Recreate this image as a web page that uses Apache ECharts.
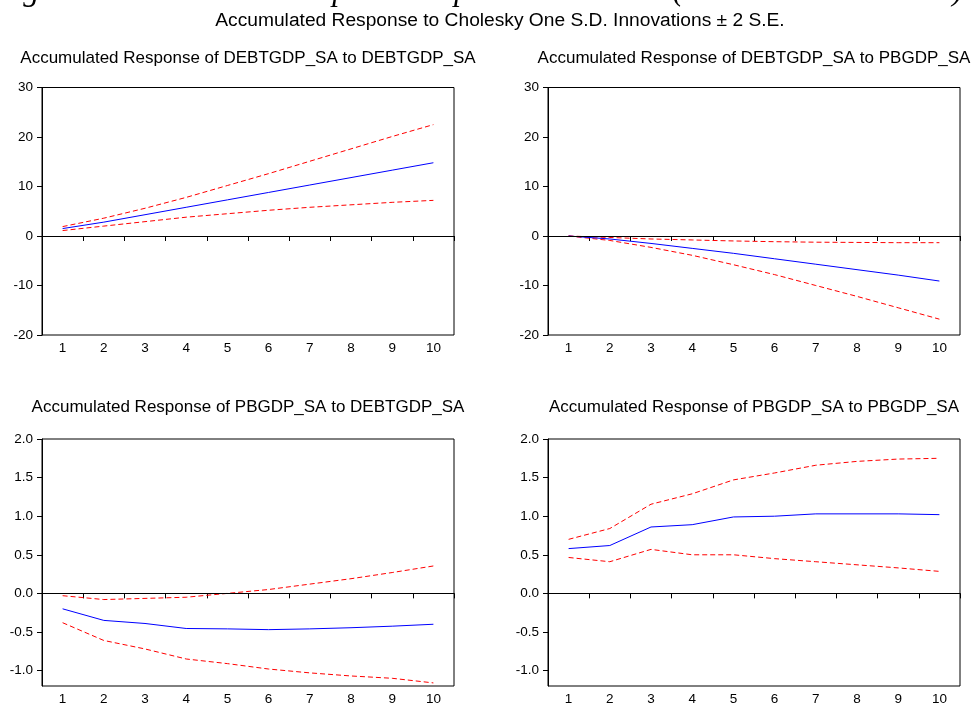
<!DOCTYPE html>
<html>
<head>
<meta charset="utf-8">
<script src="https://cdn.jsdelivr.net/npm/echarts@6/dist/echarts.min.js"></script>
<style>
html,body{margin:0;padding:0;background:#fff;}
#c{width:971px;height:706px;}
</style>
</head>
<body>
<div id="c"></div>
<script>
// ---- data ----
const periods = ['1','2','3','4','5','6','7','8','9','10'];

// Accumulated Response of DEBTGDP_SA to DEBTGDP_SA
const debtDebtResp  = [1.5, 2.8, 4.3, 5.8, 7.3, 8.8, 10.3, 11.8, 13.3, 14.8];
const debtDebtUpper = [1.9, 3.6, 5.6, 7.8, 10.2, 12.6, 15.1, 17.6, 20.1, 22.5];
const debtDebtLower = [1.1, 2.0, 2.9, 3.8, 4.5, 5.2, 5.8, 6.3, 6.8, 7.2];

// Accumulated Response of DEBTGDP_SA to PBGDP_SA
const debtPbResp  = [0.0, -0.6, -1.5, -2.5, -3.5, -4.6, -5.7, -6.8, -7.9, -9.1];
const debtPbUpper = [0.0, -0.3, -0.6, -0.8, -1.0, -1.15, -1.25, -1.3, -1.35, -1.35];
const debtPbLower = [0.0, -0.9, -2.3, -3.9, -5.8, -7.8, -10.0, -12.2, -14.5, -16.8];

// Accumulated Response of PBGDP_SA to DEBTGDP_SA
const pbDebtResp  = [-0.20, -0.35, -0.39, -0.455, -0.46, -0.47, -0.46, -0.445, -0.425, -0.40];
const pbDebtUpper = [-0.03, -0.08, -0.065, -0.05, 0.0, 0.05, 0.12, 0.19, 0.27, 0.355];
const pbDebtLower = [-0.38, -0.61, -0.72, -0.85, -0.91, -0.98, -1.03, -1.07, -1.10, -1.16];

// Accumulated Response of PBGDP_SA to PBGDP_SA
const pbPbResp  = [0.58, 0.62, 0.86, 0.89, 0.99, 1.00, 1.03, 1.03, 1.03, 1.02];
const pbPbUpper = [0.70, 0.84, 1.155, 1.29, 1.47, 1.56, 1.66, 1.71, 1.74, 1.75];
const pbPbLower = [0.465, 0.41, 0.57, 0.50, 0.50, 0.45, 0.41, 0.37, 0.33, 0.285];

const topTicks = [-20, -10, 0, 10, 20, 30];
const bottomTicks = [-1.0, -0.5, 0.0, 0.5, 1.0, 1.5, 2.0];

const mainTitle = 'Accumulated Response to Cholesky One S.D. Innovations \u00b1 2 S.E.';
const figureCaption = "Figure 3: Accumulated Impulse Response Functions (author's calculations)";
const panelTitles = [
  'Accumulated Response of DEBTGDP_SA to DEBTGDP_SA',
  'Accumulated Response of DEBTGDP_SA to PBGDP_SA',
  'Accumulated Response of PBGDP_SA to DEBTGDP_SA',
  'Accumulated Response of PBGDP_SA to PBGDP_SA'
];

// ---- layout ----
const FONT = '"Liberation Sans", Arial, sans-serif';
const grids = [
  {left: 42,  top: 87.5, width: 412, height: 247.5},
  {left: 548, top: 87.5, width: 412, height: 247.5},
  {left: 42,  top: 439,  width: 412, height: 247},
  {left: 548, top: 439,  width: 412, height: 247}
];
const panels = [
  {resp: debtDebtResp, up: debtDebtUpper, lo: debtDebtLower, min: -20, max: 30, ticks: topTicks, dec: 0},
  {resp: debtPbResp,   up: debtPbUpper,   lo: debtPbLower,   min: -20, max: 30, ticks: topTicks, dec: 0},
  {resp: pbDebtResp,   up: pbDebtUpper,   lo: pbDebtLower,   min: -1.2, max: 2.0, ticks: bottomTicks, dec: 1},
  {resp: pbPbResp,     up: pbPbUpper,     lo: pbPbLower,     min: -1.2, max: 2.0, ticks: bottomTicks, dec: 1}
];
const titleTops = [50, 50, 399, 399];

const option = {
  animation: false,
  backgroundColor: '#ffffff',
  title: [
    {text: mainTitle, left: 500, top: 11, textAlign: 'center', padding: 0,
     textStyle: {fontFamily: FONT, fontSize: 19.2, fontWeight: 'normal', color: '#000'}}
  ].concat(panelTitles.map((t, i) => ({
    text: t, left: grids[i].left + grids[i].width / 2, top: titleTops[i], textAlign: 'center', padding: 0,
    textStyle: {fontFamily: FONT, fontSize: 17, fontWeight: 'normal', color: '#000'}
  }))),
  graphic: [{
    type: 'text', right: 8, top: -24, silent: true,
    style: {text: figureCaption, font: 'italic 32px "Liberation Serif", "Times New Roman", serif', fill: '#000'}
  }],
  grid: grids.map(g => Object.assign({show: true, borderColor: '#000', borderWidth: 1, backgroundColor: 'transparent'}, g)),
  xAxis: grids.map((g, i) => ({
    type: 'category', gridIndex: i, data: periods, boundaryGap: true,
    axisLine: {show: true, lineStyle: {color: '#000', width: 1}},
    axisTick: {show: true, length: 5, inside: false, lineStyle: {color: '#000'}},
    axisLabel: {show: true, margin: 6, color: '#000', fontFamily: FONT, fontSize: 13.5, interval: 0},
    splitLine: {show: false}
  })),
  yAxis: panels.map((p, i) => ({
    type: 'value', gridIndex: i, min: p.min, max: p.max,
    axisLine: {show: true, onZero: false, lineStyle: {color: '#000', width: 1}},
    axisTick: {show: true, length: 5, inside: false, customValues: p.ticks, lineStyle: {color: '#000'}},
    axisLabel: {show: true, margin: 9, color: '#000', fontFamily: FONT, fontSize: 13.5,
      customValues: p.ticks, formatter: v => Number(v).toFixed(p.dec)},
    splitLine: {show: false}
  })),
  series: []
};

panels.forEach((p, i) => {
  option.series.push({
    type: 'line', xAxisIndex: i, yAxisIndex: i, data: p.up, symbol: 'none', silent: true,
    lineStyle: {color: '#ff0000', width: 1, type: [5, 3]}, z: 3
  });
  option.series.push({
    type: 'line', xAxisIndex: i, yAxisIndex: i, data: p.lo, symbol: 'none', silent: true,
    lineStyle: {color: '#ff0000', width: 1, type: [5, 3]}, z: 3
  });
  option.series.push({
    type: 'line', xAxisIndex: i, yAxisIndex: i, data: p.resp, symbol: 'none', silent: true,
    lineStyle: {color: '#0000ff', width: 1, type: 'solid'}, z: 4,
    markLine: {silent: true, symbol: 'none', label: {show: false},
      lineStyle: {color: '#000', width: 1, type: 'solid'}, data: [{yAxis: 0}]}
  });
});

const chart = echarts.init(document.getElementById('c'), null, {renderer: 'canvas'});
chart.setOption(option);
</script>
</body>
</html>
